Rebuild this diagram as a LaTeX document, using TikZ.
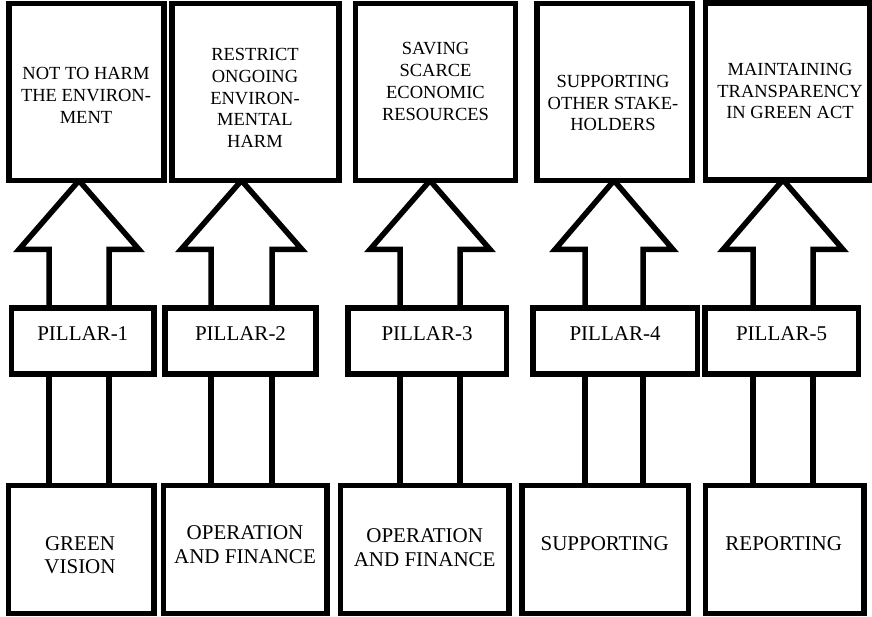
\documentclass[tikz,border=0pt]{standalone}
\usepackage{fontspec}
\setmainfont{Liberation Serif}
\usetikzlibrary{calc,backgrounds}
\begin{document}
\begin{tikzpicture}[x=1pt,y=-1pt,
  frame/.style={draw=black, line width=5.5pt, fill=white, inner sep=0pt, outer sep=0pt},
  toptxt/.style={inner sep=0pt, align=center, font=\fontsize{18.5}{21.7}\selectfont},
  lowtxt/.style={inner sep=0pt, align=center, font=\fontsize{21}{23.4}\selectfont},
  shaft/.style={draw=black, line width=5.5pt, line join=miter},
]
\useasboundingbox (0,0) rectangle (872,617);

% top boxes
\node[frame, minimum width=155pt, minimum height=177pt] (t1) at (86.3,92) {};
\node[frame, minimum width=167pt, minimum height=177pt] (t2) at (255.5,92) {};
\node[frame, minimum width=160pt, minimum height=177pt] (t3) at (435.5,92) {};
\node[frame, minimum width=155pt, minimum height=177pt] (t4) at (614.5,92) {};
\node[frame, minimum width=164pt, minimum height=177pt] (t5) at (787.4,91.3) {};

% pillar boxes
\node[frame, minimum width=142.5pt, minimum height=66pt] (p1) at (82.75,341) {};
\node[frame, minimum width=151pt, minimum height=66pt] (p2) at (240.5,341) {};
\node[frame, minimum width=158.7pt, minimum height=66pt] (p3) at (427.35,341) {};
\node[frame, minimum width=164.5pt, minimum height=66pt] (p4) at (615.25,341) {};
\node[frame, minimum width=153.5pt, minimum height=66pt] (p5) at (781.75,341) {};

% bottom boxes
\node[frame, minimum width=145.3pt, minimum height=128.2pt] (b1) at (81.35,549.6) {};
\node[frame, minimum width=163.7pt, minimum height=128.2pt] (b2) at (245.15,549.6) {};
\node[frame, minimum width=168.5pt, minimum height=128.2pt] (b3) at (424.75,549.6) {};
\node[frame, minimum width=166.5pt, minimum height=128.2pt] (b4) at (605.25,549.6) {};
\node[frame, minimum width=158.5pt, minimum height=128.2pt] (b5) at (784.75,549.6) {};

% texts
\node[toptxt] (t1x) at (86,95.4) {NOT TO HARM\\THE ENVIRON-\\MENT};
\node[toptxt] (t2x) at (255,98) {RESTRICT\\ONGOING\\ENVIRON-\\MENTAL\\HARM};
\node[toptxt] (t3x) at (435.5,81.5) {SAVING\\SCARCE\\ECONOMIC\\RESOURCES};
\node[toptxt] (t4x) at (613,103) {SUPPORTING\\OTHER STAKE-\\HOLDERS};
\node[toptxt] (t5x) at (790,91) {MAINTAINING\\TRANSPARENCY\\IN GREEN ACT};

\node[lowtxt] (p1x) at (82.75,334) {PILLAR-1};
\node[lowtxt] (p2x) at (240.5,334) {PILLAR-2};
\node[lowtxt] (p3x) at (427,334) {PILLAR-3};
\node[lowtxt] (p4x) at (615,334) {PILLAR-4};
\node[lowtxt] (p5x) at (781.5,334) {PILLAR-5};

\node[lowtxt] (b1x) at (80,555.3) {GREEN\\VISION};
\node[lowtxt] (b2x) at (245,544.5) {OPERATION\\AND FINANCE};
\node[lowtxt] (b3x) at (424.7,547.5) {OPERATION\\AND FINANCE};
\node[lowtxt] (b4x) at (604.7,543.3) {SUPPORTING};
\node[lowtxt] (b5x) at (783.7,543.3) {REPORTING};

% arrows
\coordinate (hb) at (0,249.5);
\begin{pgfonlayer}{background}
\foreach \i/\l/\r in {1/49/109, 2/211/272, 3/400/460, 4/585/643, 5/753/813}{
  \coordinate (l\i) at (\l,0);
  \coordinate (r\i) at (\r,0);
  \coordinate (c\i) at ({(\l+\r)/2},0);
  \draw[shaft] (l\i |- p\i.north) -- (l\i |- hb) -- ++(-30,0)
     -- (c\i |- t\i.south) -- ($(r\i |- hb)+(30,0)$) -- (r\i |- hb) -- (r\i |- p\i.north);
  \draw[shaft] (l\i |- p\i.south) -- (l\i |- b\i.north);
  \draw[shaft] (r\i |- p\i.south) -- (r\i |- b\i.north);
}
\end{pgfonlayer}
\end{tikzpicture}
\end{document}
